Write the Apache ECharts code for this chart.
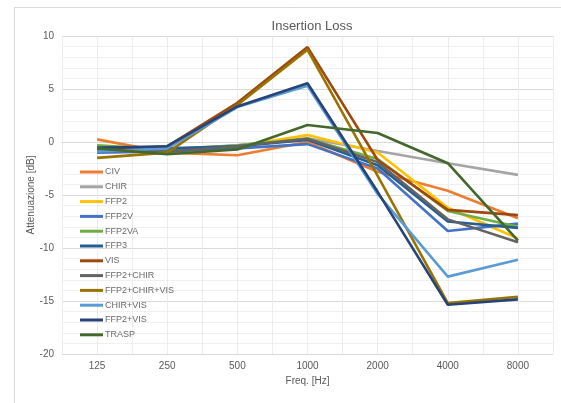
<!DOCTYPE html>
<html>
<head>
<meta charset="utf-8">
<script src="https://cdn.jsdelivr.net/npm/echarts@6/dist/echarts.min.js"></script>
<style>html,body{margin:0;padding:0;background:#fff}#c{width:561px;height:403px}</style>
</head>
<body>
<div id="c"></div>
<script>
var categories = ['125', '250', '500', '1000', '2000', '4000', '8000'];
var seriesNames = ['CIV', 'CHIR', 'FFP2', 'FFP2V', 'FFP2VA', 'FFP3', 'VIS', 'FFP2+CHIR', 'FFP2+CHIR+VIS', 'CHIR+VIS', 'FFP2+VIS', 'TRASP'];
var civ          = [0.25, -1.0, -1.25, 0.0, -2.8, -4.6, -7.2];
var chir         = [-0.7, -0.8, -0.3, 0.35, -0.85, -2.0, -3.1];
var ffp2         = [-0.6, -0.8, -0.4, 0.65, -1.0, -6.2, -9.1];
var ffp2v        = [-1.0, -0.9, -0.6, -0.2, -2.5, -8.4, -7.7];
var ffp2va       = [-0.3, -0.7, -0.3, 0.3, -1.6, -6.5, -8.0];
var ffp3         = [-0.55, -0.6, -0.4, 0.2, -2.2, -7.5, -8.1];
var vis          = [-0.8, -0.4, 3.7, 8.95, -1.7, -6.4, -6.9];
var ffp2chir     = [-0.8, -0.9, -0.4, 0.3, -1.9, -7.3, -9.45];
var ffp2chirvis  = [-1.5, -1.0, 3.5, 8.7, -3.2, -15.2, -14.6];
var chirvis      = [-0.9, -0.6, 3.3, 5.3, -4.9, -12.7, -11.1];
var ffp2vis      = [-0.55, -0.4, 3.35, 5.55, -4.7, -15.35, -14.85];
var trasp        = [-0.6, -1.15, -0.7, 1.6, 0.85, -2.0, -9.3];
var yTicks = [-20, -15, -10, -5, 0, 5, 10];

var values = [civ, chir, ffp2, ffp2v, ffp2va, ffp3, vis, ffp2chir, ffp2chirvis, chirvis, ffp2vis, trasp];
var colors = ['#ed7d31', '#a5a5a5', '#ffc000', '#4472c4', '#70ad47', '#255e91', '#9e480e', '#636363', '#997300', '#5b9bd5', '#264478', '#43682b'];

var FONT = "'Liberation Sans', sans-serif";
var chart = echarts.init(document.getElementById('c'), null, {renderer: 'canvas'});
var series = seriesNames.map(function (n, i) {
  return {
    name: n, type: 'line', data: values[i], xAxisIndex: 0, yAxisIndex: 0,
    showSymbol: false, symbol: 'none', smooth: false,
    lineStyle: {width: 2.6, color: colors[i]}, itemStyle: {color: colors[i]},
    emphasis: {disabled: true}, animation: false
  };
});
chart.setOption({
  animation: false,
  backgroundColor: '#fff',
  color: colors,
  graphic: [{type: 'rect', shape: {x: 14.5, y: 7.5, width: 600, height: 500}, style: {fill: 'none', stroke: '#d9d9d9', lineWidth: 1}, silent: true, z: -10}],
  title: {text: 'Insertion Loss', left: 307, top: 15, textAlign: 'center',
    textStyle: {fontFamily: FONT, fontSize: 13, fontWeight: 'normal', color: '#595959'}},
  grid: {left: 62, right: 8, top: 36, bottom: 49, containLabel: false},
  legend: {
    orient: 'vertical', left: 80, top: 167, padding: 0, data: seriesNames,
    icon: 'rect', itemWidth: 23, itemHeight: 3, itemGap: 4.8,
    textStyle: {fontFamily: FONT, fontSize: 9, color: '#6a6a6a', lineHeight: 10, padding: [0, 0, 0, -3]},
    selectedMode: false
  },
  xAxis: [{
    type: 'category', data: categories, boundaryGap: true,
    name: 'Freq. [Hz]', nameLocation: 'middle', nameGap: 22,
    nameTextStyle: {fontFamily: FONT, fontSize: 10, color: '#595959'},
    axisLine: {show: true, lineStyle: {color: '#d9d9d9', width: 1}},
    axisTick: {show: false},
    axisLabel: {fontFamily: FONT, fontSize: 10, color: '#595959', margin: 7},
    splitLine: {show: false}
  }, {
    type: 'value', min: 0, max: 14, interval: 1, position: 'bottom',
    axisLine: {show: false}, axisTick: {show: false}, axisLabel: {show: false},
    splitLine: {show: true, lineStyle: {color: '#ececec', width: 1}}
  }],
  yAxis: [{
    type: 'value', min: yTicks[0], max: yTicks[yTicks.length - 1], interval: 5,
    name: 'Attenuazione [dB]', nameLocation: 'middle', nameGap: 26, nameRotate: 90,
    nameMoveOverlap: false,
    nameTextStyle: {fontFamily: FONT, fontSize: 10, color: '#595959'},
    axisLine: {show: false}, axisTick: {show: false},
    axisLabel: {fontFamily: FONT, fontSize: 10, color: '#595959', margin: 8},
    splitLine: {show: true, lineStyle: {color: '#d9d9d9', width: 1}},
    minorTick: {show: false, splitNumber: 5},
    minorSplitLine: {show: true, lineStyle: {color: '#f0f0f0', width: 1}}
  }],
  series: series
});
</script>
</body>
</html>
